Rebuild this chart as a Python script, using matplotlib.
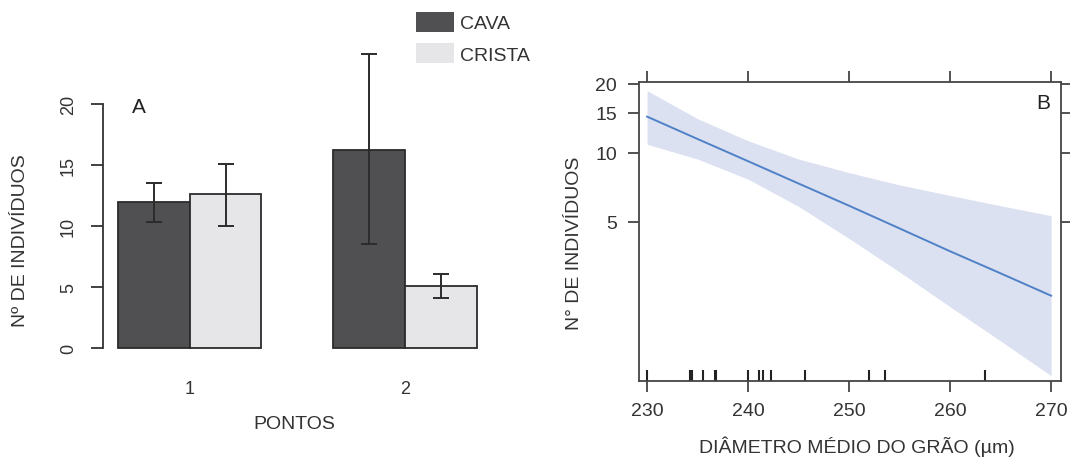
import numpy as np
import matplotlib
matplotlib.use("Agg")
import matplotlib.pyplot as plt
from matplotlib.ticker import FixedLocator, NullLocator, FixedFormatter
from matplotlib.patches import Patch

plt.rcParams['font.family'] = ['Liberation Sans', 'DejaVu Sans']

TXT = '#333333'

# --- painel A: barras ---
pontos = ['1', '2']
cava = [12.0, 16.2]
cava_lo = [10.35, 8.5]
cava_hi = [13.5, 24.1]
crista = [12.6, 5.1]
crista_lo = [10.0, 4.1]
crista_hi = [15.1, 6.05]
yticks_a = [0, 5, 10, 15, 20]

# --- painel B: efeito do diametro do grao ---
diam = [230, 235, 240, 245, 250, 255, 260, 265, 270]
ajuste = [14.4, 11.5, 9.2, 7.35, 5.88, 4.68, 3.72, 2.98, 2.38]
ic_sup = [18.7, 14.1, 11.3, 9.4, 8.2, 7.25, 6.52, 5.88, 5.32]
ic_inf = [10.9, 9.4, 7.68, 5.84, 4.23, 3.02, 2.13, 1.51, 1.065]
rug = [230.0, 234.28, 234.43, 235.49, 236.71, 236.86, 240.01, 241.07,
       241.44, 242.23, 245.63, 251.97, 253.56, 263.47]
xticks_b = [230, 240, 250, 260, 270]
yticks_b = [5, 10, 15, 20]

fig = plt.figure(figsize=(10.7, 4.6), dpi=100)

# ---------------- A ----------------
axA = fig.add_axes([0.0967, 0.22, 0.3625, 0.573])
x_cava = np.array([1.5, 4.5])
x_crista = x_cava + 1
axA.bar(x_cava, cava, width=1, color='#505052', edgecolor='#2b2b2b', linewidth=1.3,
        label='CAVA')
axA.bar(x_crista, crista, width=1, color='#e6e6e8', edgecolor='#2b2b2b', linewidth=1.3,
        label='CRISTA')
cava = np.array(cava)
crista = np.array(crista)
axA.errorbar(x_cava, cava, yerr=[cava - np.array(cava_lo), np.array(cava_hi) - cava],
             fmt='none', ecolor='#2b2b2b', elinewidth=1.4, capsize=6, capthick=1.4,
             clip_on=False)
axA.errorbar(x_crista, crista, yerr=[crista - np.array(crista_lo), np.array(crista_hi) - crista],
             fmt='none', ecolor='#2b2b2b', elinewidth=1.4, capsize=6, capthick=1.4,
             clip_on=False)
axA.set_xlim(0.8, 6.2)
axA.set_ylim(-0.8, 20.8)
for s in ['top', 'right', 'bottom']:
    axA.spines[s].set_visible(False)
axA.spines['left'].set_bounds(0, 20)
axA.spines['left'].set_color('#333333')
axA.spines['left'].set_linewidth(1.3)
axA.set_yticks(yticks_a)
axA.set_yticklabels([str(v) for v in yticks_a], rotation=90, va='center')
axA.tick_params(axis='y', length=9, width=1.3, color='#333333', pad=10,
                labelsize=13, labelcolor=TXT)
axA.set_xticks([2, 5])
axA.set_xticklabels(pontos)
axA.tick_params(axis='x', length=0, pad=16, labelsize=13, labelcolor=TXT)
axA.set_ylabel('Nº DE INDIVÍDUOS', fontsize=14, color=TXT)
axA.yaxis.set_label_coords(-0.214, 0.449)
axA.yaxis.label.set_va('center')
axA.set_xlabel('PONTOS', fontsize=14, color=TXT)
axA.xaxis.set_label_coords(0.493, -0.25)
axA.xaxis.label.set_va('center')
axA.text(1.29, 19.8, 'A', fontsize=15, color='#222222', ha='center', va='center')

fig.legend(handles=[Patch(facecolor='#505052', edgecolor='none', label='CAVA'),
                    Patch(facecolor='#e6e6e8', edgecolor='none', label='CRISTA')],
           loc='upper left', bbox_to_anchor=(416 / 1070, 1 - 12.7 / 460),
           frameon=False, fontsize=14, handlelength=1.96, handleheight=1.24,
           labelspacing=0.54, handletextpad=0.3, borderpad=0, borderaxespad=0,
           labelcolor=TXT)

# ---------------- B ----------------
axB = fig.add_axes([0.5972, 0.1696, 0.3941, 0.65])
axB.set_yscale('log')
axB.fill_between(diam, ic_inf, ic_sup, color='#dce1f2', linewidth=0)
axB.plot(diam, ajuste, color='#4f81c7', linewidth=1.4)
axB.vlines(rug, 0, 0.037, transform=axB.get_xaxis_transform(), color='#222222',
           linewidth=1.5)
axB.set_xlim(229.2, 270.95)
axB.set_ylim(1.01, 20.4)
for s in axB.spines.values():
    s.set_color('#444444')
    s.set_linewidth(1.3)
axB.yaxis.set_major_locator(FixedLocator(yticks_b))
axB.yaxis.set_minor_locator(NullLocator())
axB.yaxis.set_major_formatter(FixedFormatter([str(v) for v in yticks_b]))
axB.xaxis.set_major_locator(FixedLocator(xticks_b))
axB.xaxis.set_major_formatter(FixedFormatter([str(v) for v in xticks_b]))
axB.tick_params(axis='both', which='major', direction='out', length=8, width=1.3,
                color='#444444', labelsize=14, labelcolor=TXT,
                top=True, right=True, labeltop=False, labelright=False)
axB.tick_params(axis='y', pad=8)
axB.tick_params(axis='x', pad=7)
axB.set_ylabel('N° DE INDIVÍDUOS', fontsize=14, color=TXT)
axB.yaxis.set_label_coords(-0.154, 0.465)
axB.yaxis.label.set_va('center')
axB.set_xlabel('DIÂMETRO MÉDIO DO GRÃO (µm)', fontsize=14, color=TXT)
axB.xaxis.set_label_coords(0.517, -0.217)
axB.xaxis.label.set_va('center')
axB.text(0.958, 0.933, 'B', transform=axB.transAxes, fontsize=15, color='#222222',
         ha='center', va='center')

fig.savefig('out.png', dpi=100)
